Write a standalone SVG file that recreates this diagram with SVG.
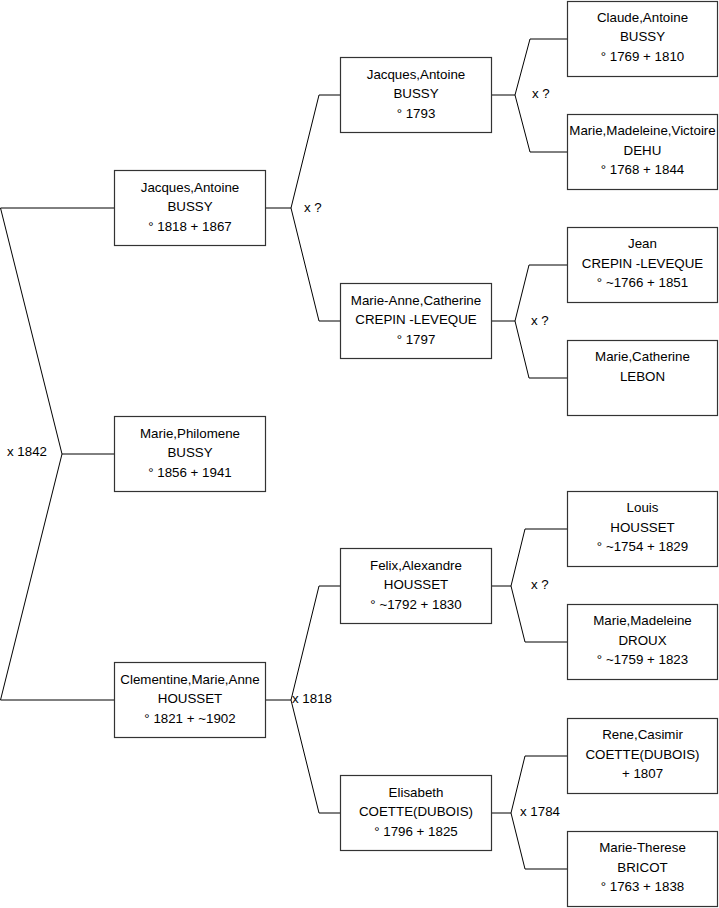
<svg xmlns="http://www.w3.org/2000/svg" width="719" height="908" viewBox="0 0 719 908">
<style>
rect.b{fill:#fff;stroke:#333;stroke-width:1.2}
text{font-family:"Liberation Sans",Arial,sans-serif;font-size:13.33px;fill:#000}
.n text{text-anchor:middle}
.c path{fill:none;stroke:#000;stroke-width:1}
</style>
<rect width="719" height="908" fill="#fff"/>
<g class="c" id="connectors">
<path d="M0.5,208 H114.5 M0.5,208 L62,454 L0.5,700 H114.5 M62,454 H114.5"/>
<path d="M265.5,208 H291 M319,95 L291,208 L319,321 M319,95 H340.5 M319,321 H340.5"/>
<path d="M265.5,700 H291 M319,586 L291,700 L319,813 M319,586 H340.5 M319,813 H340.5"/>
<path d="M491.5,95 H515 M530,39 L515,95 L530,152 M530,39 H567.5 M530,152 H567.5"/>
<path d="M491.5,321 H515 M529,265 L515,321 L529,378 M529,265 H567.5 M529,378 H567.5"/>
<path d="M491.5,586 H511 M525,529 L511,586 L525,642 M525,529 H567.5 M525,642 H567.5"/>
<path d="M491.5,813 H511 M525,756 L511,813 L525,869 M525,756 H567.5 M525,869 H567.5"/>
<text x="7" y="456">x 1842</text>
<text x="304" y="211.5">x ?</text>
<text x="292" y="702.5">x 1818</text>
<text x="532" y="97.5">x ?</text>
<text x="531" y="324.5">x ?</text>
<text x="531" y="588.5">x ?</text>
<text x="520" y="815.5">x 1784</text>
</g>
<g class="n" id="n-jacques-1818"><rect class="b" x="114.5" y="170.5" width="151" height="75"/><text x="190"><tspan x="190" y="191.5">Jacques,Antoine</tspan><tspan x="190" y="211">BUSSY</tspan><tspan x="190" y="230.5">° 1818 + 1867</tspan></text></g>
<g class="n" id="n-marie-philomene"><rect class="b" x="114.5" y="416.5" width="151" height="75"/><text><tspan x="190" y="437.5">Marie,Philomene</tspan><tspan x="190" y="457">BUSSY</tspan><tspan x="190" y="476.5">° 1856 + 1941</tspan></text></g>
<g class="n" id="n-clementine"><rect class="b" x="114.5" y="662.5" width="151" height="75"/><text><tspan x="190" y="683.5">Clementine,Marie,Anne</tspan><tspan x="190" y="703">HOUSSET</tspan><tspan x="190" y="722.5">° 1821 + ~1902</tspan></text></g>
<g class="n" id="n-jacques-1793"><rect class="b" x="340.5" y="57.5" width="151" height="75"/><text><tspan x="416" y="78.5">Jacques,Antoine</tspan><tspan x="416" y="98">BUSSY</tspan><tspan x="416" y="117.5">° 1793</tspan></text></g>
<g class="n" id="n-marie-anne"><rect class="b" x="340.5" y="283.5" width="151" height="75"/><text><tspan x="416" y="304.5">Marie-Anne,Catherine</tspan><tspan x="416" y="324">CREPIN -LEVEQUE</tspan><tspan x="416" y="343.5">° 1797</tspan></text></g>
<g class="n" id="n-felix"><rect class="b" x="340.5" y="548.5" width="151" height="75"/><text><tspan x="416" y="569.5">Felix,Alexandre</tspan><tspan x="416" y="589">HOUSSET</tspan><tspan x="416" y="608.5">° ~1792 + 1830</tspan></text></g>
<g class="n" id="n-elisabeth"><rect class="b" x="340.5" y="775.5" width="151" height="75"/><text><tspan x="416" y="796.5">Elisabeth</tspan><tspan x="416" y="816">COETTE(DUBOIS)</tspan><tspan x="416" y="835.5">° 1796 + 1825</tspan></text></g>
<g class="n" id="n-claude"><rect class="b" x="567.5" y="1.5" width="150" height="75"/><text><tspan x="642.5" y="21.5">Claude,Antoine</tspan><tspan x="642.5" y="41">BUSSY</tspan><tspan x="642.5" y="60.5">° 1769 + 1810</tspan></text></g>
<g class="n" id="n-victoire"><rect class="b" x="567.5" y="114.5" width="150" height="75"/><text><tspan x="642.5" y="135">Marie,Madeleine,Victoire</tspan><tspan x="642.5" y="154.5">DEHU</tspan><tspan x="642.5" y="174">° 1768 + 1844</tspan></text></g>
<g class="n" id="n-jean"><rect class="b" x="567.5" y="227.5" width="150" height="75"/><text><tspan x="642.5" y="248">Jean</tspan><tspan x="642.5" y="267.5">CREPIN -LEVEQUE</tspan><tspan x="642.5" y="287">° ~1766 + 1851</tspan></text></g>
<g class="n" id="n-lebon"><rect class="b" x="567.5" y="340.5" width="150" height="75"/><text><tspan x="642.5" y="361">Marie,Catherine</tspan><tspan x="642.5" y="380.5">LEBON</tspan></text></g>
<g class="n" id="n-louis"><rect class="b" x="567.5" y="491.5" width="150" height="75"/><text><tspan x="642.5" y="512">Louis</tspan><tspan x="642.5" y="531.5">HOUSSET</tspan><tspan x="642.5" y="551">° ~1754 + 1829</tspan></text></g>
<g class="n" id="n-droux"><rect class="b" x="567.5" y="604.5" width="150" height="75"/><text><tspan x="642.5" y="625">Marie,Madeleine</tspan><tspan x="642.5" y="644.5">DROUX</tspan><tspan x="642.5" y="664">° ~1759 + 1823</tspan></text></g>
<g class="n" id="n-rene"><rect class="b" x="567.5" y="718.5" width="150" height="75"/><text><tspan x="642.5" y="739">Rene,Casimir</tspan><tspan x="642.5" y="758.5">COETTE(DUBOIS)</tspan><tspan x="642.5" y="778">+ 1807</tspan></text></g>
<g class="n" id="n-marie-therese"><rect class="b" x="567.5" y="831.5" width="150" height="75"/><text><tspan x="642.5" y="852">Marie-Therese</tspan><tspan x="642.5" y="871.5">BRICOT</tspan><tspan x="642.5" y="891">° 1763 + 1838</tspan></text></g>
</svg>
